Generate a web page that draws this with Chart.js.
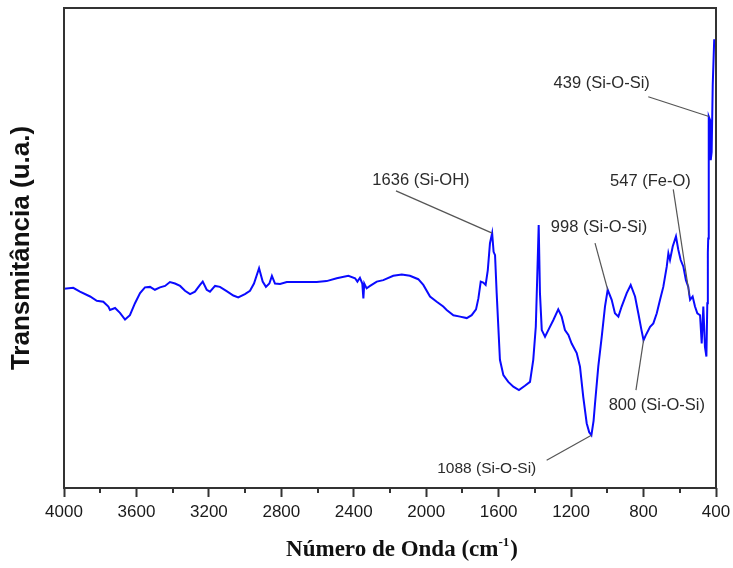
<!DOCTYPE html>
<html lang="pt">
<head>
<meta charset="utf-8">
<title>Espectro FTIR</title>
<script src="https://cdn.jsdelivr.net/npm/chart.js@4.4.1/dist/chart.umd.min.js"></script>
<style>
  html, body { margin: 0; padding: 0; background: #fff; }
  #wrap { width: 733px; height: 568px; }
</style>
</head>
<body>
<div id="wrap"><canvas id="ftirChart" width="733" height="568"></canvas></div>
<script>
// Espectro FTIR (cm-1 vs transmitância em unidades arbitrárias)
const wavenumber = [
  4000, 3949, 3912, 3856, 3819, 3783, 3755, 3746, 3718, 3691, 3663, 3636, 3608, 3580,
  3553, 3525, 3498, 3470, 3442, 3415, 3387, 3359, 3332, 3304, 3277, 3249, 3234, 3212,
  3194, 3166, 3139, 3102, 3065, 3038, 3001, 2973, 2951, 2923, 2903, 2885, 2866, 2852,
  2835, 2807, 2770, 2697, 2605, 2550, 2494, 2430, 2393, 2380, 2366, 2353, 2347, 2342,
  2329, 2310, 2273, 2237, 2182, 2135, 2090, 2044, 2016, 1979, 1942, 1906, 1887, 1850,
  1813, 1776, 1749, 1725, 1712, 1699, 1685, 1672, 1660, 1648, 1636, 1628, 1620, 1611,
  1593, 1574, 1547, 1519, 1488, 1455, 1427, 1409, 1395, 1387, 1379, 1372, 1362, 1344,
  1326, 1298, 1271, 1252, 1234, 1215, 1197, 1169, 1151, 1133, 1114, 1100, 1088, 1076,
  1068, 1050, 1031, 1013, 998, 976, 958, 939, 921, 893, 871, 847, 829, 812,
  800, 788, 764, 746, 727, 709, 691, 672, 663, 654, 639, 621, 608, 595,
  580, 566, 553, 547, 543, 529, 516, 503, 488, 479, 470, 461, 453, 448,
  445, 443, 441, 439, 433, 429, 424, 418, 410, 400
];
const transmittance = [
  41.5, 41.7, 40.9, 39.9, 39.0, 38.8, 37.8, 37.1, 37.5, 36.5, 35.1, 36.0, 38.5, 40.6,
  41.8, 41.9, 41.3, 41.8, 42.1, 42.9, 42.6, 42.1, 41.1, 40.4, 40.9, 42.3, 43.0, 41.3,
  40.9, 42.1, 41.9, 41.0, 40.1, 39.7, 40.4, 41.1, 42.6, 45.8, 43.0, 41.9, 42.6, 44.2,
  42.6, 42.5, 42.9, 42.9, 42.9, 43.1, 43.7, 44.2, 43.7, 43.0, 43.8, 42.6, 39.5, 42.6,
  41.6, 42.1, 43.0, 43.3, 44.2, 44.5, 44.2, 43.5, 42.3, 39.9, 38.8, 37.8, 37.1, 36.0,
  35.7, 35.4, 36.0, 37.2, 39.5, 43.0, 42.8, 42.3, 45.4, 51.0, 53.1, 49.2, 48.5, 40.6,
  26.7, 23.5, 22.1, 21.1, 20.4, 21.3, 22.1, 26.7, 33.6, 44.0, 54.8, 40.6, 32.9, 31.5,
  32.9, 35.0, 37.2, 35.7, 32.9, 31.9, 30.1, 28.1, 25.3, 19.0, 13.5, 11.6, 11.0, 14.0,
  17.6, 25.3, 31.5, 37.8, 41.3, 39.2, 36.4, 35.7, 37.8, 40.6, 42.3, 39.9, 36.4, 33.0,
  30.8, 31.8, 33.6, 34.3, 36.4, 39.2, 41.9, 46.1, 48.9, 47.5, 50.3, 52.4, 49.6, 47.5,
  46.1, 43.3, 41.9, 40.2, 39.2, 39.9, 37.8, 36.4, 36.0, 30.1, 37.8, 29.4, 27.4, 38.5,
  49.0, 52.0, 68.3, 77.4, 76.7, 68.3, 70.0, 84.0, 93.3, 93.3
];
const majorTicks = [4000, 3600, 3200, 2800, 2400, 2000, 1600, 1200, 800, 400];

// Bandas identificadas
const peakBands = [1636, 998, 547, 439, 800, 1088];
const peakLabels = ['1636 (Si-OH)', '998 (Si-O-Si)', '547 (Fe-O)', '439 (Si-O-Si)', '800 (Si-O-Si)', '1088 (Si-O-Si)'];

// onde fica cada rótulo e de onde parte a linha (em unidades do gráfico)
const noteLayout = [
  { at: [2029, 64.0], from: [2167, 61.9], size: 16.5 },
  { at: [1046, 54.2], from: [1068, 51.0], size: 16.5 },
  { at: [762, 63.8],  from: [636, 62.2],  size: 16.5 },
  { at: [1031, 84.3], from: [774, 81.5],  size: 16.5 },
  { at: [727, 17.3],  from: [842, 20.4],  size: 16.5 },
  { at: [1666, 4.1],  from: [1335, 5.8],  size: 15.5 }
];

const frameAndNotes = {
  id: 'frameAndNotes',
  afterDatasetsDraw(chart) {
    const { ctx, chartArea: a, scales: { x, y } } = chart;
    ctx.save();

    // ticks menores (a cada 200)
    ctx.strokeStyle = '#333';
    ctx.lineWidth = 2;
    x.ticks.forEach(t => {
      if (majorTicks.includes(t.value)) return;
      const px = Math.round(x.getPixelForValue(t.value));
      ctx.beginPath();
      ctx.moveTo(px, a.bottom);
      ctx.lineTo(px, a.bottom + 5);
      ctx.stroke();
    });

    // moldura
    ctx.strokeRect(a.left, a.top, a.right - a.left, a.bottom - a.top);

    // rótulos das bandas
    ctx.strokeStyle = '#555';
    ctx.lineWidth = 1.2;
    ctx.fillStyle = '#2b2b2b';
    ctx.textAlign = 'center';
    ctx.textBaseline = 'middle';
    peakBands.forEach((band, i) => {
      const note = noteLayout[i];
      const idx = wavenumber.indexOf(band);
      ctx.beginPath();
      ctx.moveTo(x.getPixelForValue(note.from[0]), y.getPixelForValue(note.from[1]));
      ctx.lineTo(x.getPixelForValue(band), y.getPixelForValue(transmittance[idx]));
      ctx.stroke();
      ctx.font = note.size + 'px "Liberation Sans", Arial, sans-serif';
      ctx.fillText(peakLabels[i], x.getPixelForValue(note.at[0]), y.getPixelForValue(note.at[1]));
    });

    // título do eixo x com sobrescrito
    const main = 'Número de Onda (cm', sup = '-1', tail = ')';
    const bigFont = 'bold 23px "Liberation Serif", "Times New Roman", serif';
    const supFont = 'bold 13px "Liberation Serif", "Times New Roman", serif';
    ctx.textAlign = 'left';
    ctx.textBaseline = 'alphabetic';
    ctx.fillStyle = '#111';
    ctx.font = bigFont;
    const w1 = ctx.measureText(main).width, w3 = ctx.measureText(tail).width;
    ctx.font = supFont;
    const w2 = ctx.measureText(sup).width + 1;
    let tx = (a.left + a.right) / 2 + 12 - (w1 + w2 + w3) / 2;
    const ty = 556;
    ctx.font = bigFont;
    ctx.fillText(main, tx, ty);
    tx += w1;
    ctx.font = supFont;
    ctx.fillText(sup, tx, ty - 10);
    tx += w2;
    ctx.font = bigFont;
    ctx.fillText(tail, tx, ty);

    ctx.restore();
  }
};

new Chart(document.getElementById('ftirChart'), {
  type: 'line',
  data: {
    labels: wavenumber,
    datasets: [{
      label: 'FTIR',
      data: wavenumber.map((w, i) => ({ x: w, y: transmittance[i] })),
      borderColor: '#0a0aff',
      borderWidth: 2,
      pointRadius: 0,
      tension: 0,
      fill: false
    }]
  },
  options: {
    responsive: false,
    animation: false,
    layout: { padding: { top: 8, right: 17, left: 0, bottom: 0 } },
    plugins: {
      legend: { display: false },
      tooltip: { enabled: false }
    },
    scales: {
      x: {
        type: 'linear',
        reverse: true,
        min: 400,
        max: 4000,
        border: { display: false },
        grid: {
          display: true,
          drawOnChartArea: false,
          drawTicks: true,
          tickLength: 9,
          tickWidth: 2,
          tickColor: ctx => majorTicks.includes(ctx.tick.value) ? '#333' : 'rgba(0,0,0,0)'
        },
        ticks: {
          stepSize: 200,
          autoSkip: false,
          maxRotation: 0,
          padding: 5,
          color: '#1a1a1a',
          font: { family: '"Liberation Sans", Arial, sans-serif', size: 17 },
          callback: v => majorTicks.includes(v) ? String(v) : ''
        },
        afterFit: scale => {
          scale.height = 80;
          // os rótulos das pontas podem sair da área; a margem fica por conta do layout
          scale.paddingLeft = 0;
          scale.paddingRight = 0;
        }
      },
      y: {
        min: 0,
        max: 100,
        border: { display: false },
        grid: { display: false },
        ticks: { display: false },
        title: {
          display: true,
          text: 'Transmitância (u.a.)',
          color: '#111',
          padding: { top: 6, bottom: 0 },
          font: { family: '"Liberation Sans", Arial, sans-serif', size: 26, weight: 'bold' }
        },
        afterFit: scale => { scale.width = 64; }
      }
    }
  },
  plugins: [frameAndNotes]
});
</script>
</body>
</html>
